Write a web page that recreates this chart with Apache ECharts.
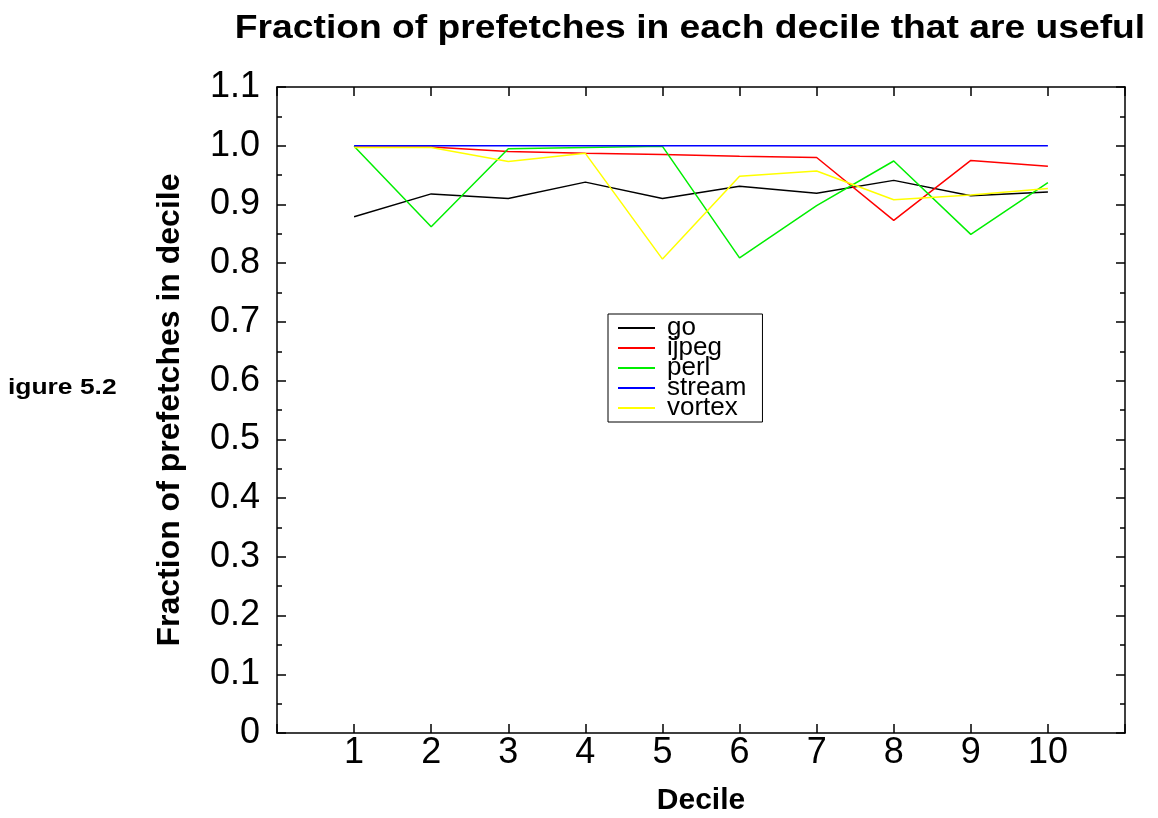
<!DOCTYPE html>
<html>
<head>
<meta charset="utf-8">
<script src="https://cdn.jsdelivr.net/npm/echarts@6/dist/echarts.min.js"></script>
<style>
  html, body { margin: 0; padding: 0; background: #fff; }
  #main { width: 1158px; height: 818px; }
</style>
</head>
<body>
<div id="main"></div>
<script>
var deciles = [1, 2, 3, 4, 5, 6, 7, 8, 9, 10];
var goVals     = [0.879, 0.918, 0.910, 0.938, 0.910, 0.931, 0.919, 0.941, 0.915, 0.921];
var ijpegVals  = [0.998, 0.998, 0.990, 0.987, 0.985, 0.982, 0.980, 0.873, 0.975, 0.965];
var perlVals   = [0.999, 0.862, 0.995, 0.997, 0.999, 0.809, 0.898, 0.974, 0.849, 0.937];
var streamVals = [1.0, 1.0, 1.0, 1.0, 1.0, 1.0, 1.0, 1.0, 1.0, 1.0];
var vortexVals = [0.997, 0.997, 0.973, 0.987, 0.807, 0.948, 0.957, 0.908, 0.916, 0.927];
var xTickLabels = ['1', '2', '3', '4', '5', '6', '7', '8', '9', '10'];

var names = ['go', 'ijpeg', 'perl', 'stream', 'vortex'];
var colors = ['#000000', '#ff0000', '#00ee00', '#0000ff', '#ffff00'];
var allVals = [goVals, ijpegVals, perlVals, streamVals, vortexVals];

var font = 'Liberation Sans, Arial, sans-serif';

function pairs(vals) {
    return deciles.map(function (d, i) { return [d, vals[i]]; });
}

var series = names.map(function (n, i) {
    return {
        name: n,
        type: 'line',
        data: pairs(allVals[i]),
        showSymbol: false,
        symbol: 'none',
        lineStyle: { color: colors[i], width: 1.5 },
        itemStyle: { color: colors[i] },
        animation: false
    };
});

var axisCommon = {
    type: 'value',
    splitLine: { show: false },
    axisLine: { show: true, onZero: false, lineStyle: { color: '#000', width: 1.5 } },
    axisTick: { show: true, inside: true, length: 9, lineStyle: { color: '#000', width: 1.5 } }
};

var chart = echarts.init(document.getElementById('main'), null, { renderer: 'canvas' });
chart.setOption({
    backgroundColor: '#fff',
    animation: false,
    graphic: [{
        type: 'text',
        x: 690,
        y: 29,
        scaleX: 1.095,
        style: {
            text: 'Fraction of prefetches in each decile that are useful',
            font: 'bold 34px ' + font, fill: '#000',
            align: 'center', verticalAlign: 'middle'
        }
    }, {
        type: 'text',
        x: 8,
        y: 388,
        scaleX: 1.2,
        style: {
            text: 'igure 5.2', font: 'bold 22px ' + font, fill: '#000',
            align: 'left', verticalAlign: 'middle'
        }
    }],
    legend: {
        orient: 'vertical',
        left: 608,
        top: 314,
        padding: [1, 16, 1, 10],
        itemGap: -6,
        itemWidth: 37,
        itemHeight: 2,
        icon: 'rect',
        borderColor: '#000',
        borderWidth: 1,
        backgroundColor: '#fff',
        textStyle: { fontFamily: font, fontSize: 26, color: '#000', padding: [0, 0, 0, 7] },
        data: names
    },
    grid: { left: 277, right: 33, top: 87, bottom: 85, containLabel: false, outerBoundsMode: 'none' },
    xAxis: [
        Object.assign({}, axisCommon, {
            min: 0, max: 11, interval: 1,
            name: 'Decile',
            nameLocation: 'middle',
            nameGap: 53,
            nameTextStyle: { fontFamily: font, fontSize: 30, fontWeight: 'bold', color: '#000' },
            axisLabel: {
                fontFamily: font, fontSize: 36, color: '#000', margin: 2,
                formatter: function (v) { return (v >= 1 && v <= 10) ? xTickLabels[v - 1] : ''; }
            }
        }),
        Object.assign({}, axisCommon, {
            min: 0, max: 11, interval: 1, position: 'top',
            axisLabel: { show: false }
        })
    ],
    yAxis: [
        Object.assign({}, axisCommon, {
            min: 0, max: 1.1, interval: 0.1,
            name: 'Fraction of prefetches in decile',
            nameLocation: 'middle',
            nameGap: 91,
            nameTextStyle: { fontFamily: font, fontSize: 32, fontWeight: 'bold', color: '#000' },
            minorTick: { show: true, splitNumber: 2, length: 5, lineStyle: { color: '#000', width: 1.5 } },
            axisLabel: {
                fontFamily: font, fontSize: 36, color: '#000', margin: 17,
                formatter: function (v) { return v === 0 ? '0' : v.toFixed(1); }
            }
        }),
        Object.assign({}, axisCommon, {
            min: 0, max: 1.1, interval: 0.1, position: 'right',
            minorTick: { show: true, splitNumber: 2, length: 5, lineStyle: { color: '#000', width: 1.5 } },
            axisLabel: { show: false }
        })
    ],
    series: series
});
</script>
</body>
</html>
